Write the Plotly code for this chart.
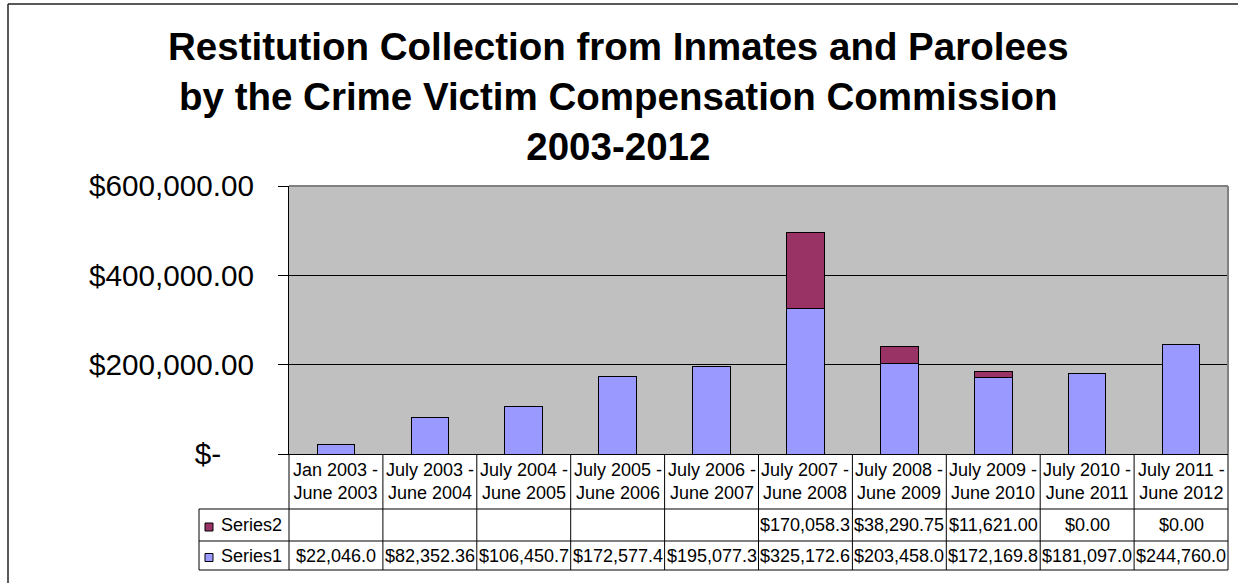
import plotly.graph_objects as go

# ---------------- data ----------------
categories = [
    "Jan 2003 -<br>June 2003", "July 2003 -<br>June 2004", "July 2004 -<br>June 2005",
    "July 2005 -<br>June 2006", "July 2006 -<br>June 2007", "July 2007 -<br>June 2008",
    "July 2008 -<br>June 2009", "July 2009 -<br>June 2010", "July 2010 -<br>June 2011",
    "July 2011 -<br>June 2012",
]
series1 = [22046.0, 82352.36, 106450.7, 172577.4, 195077.3,
           325172.6, 203458.0, 172169.8, 181097.0, 244760.0]
series2 = [None, None, None, None, None,
           170058.3, 38290.75, 11621.00, 0.0, 0.0]
series1_text = ["$22,046.0", "$82,352.36", "$106,450.7", "$172,577.4", "$195,077.3",
                "$325,172.6", "$203,458.0", "$172,169.8", "$181,097.0", "$244,760.0"]
series2_text = ["", "", "", "", "",
                "$170,058.3", "$38,290.75", "$11,621.00", "$0.00", "$0.00"]
series_names = ["Series1", "Series2"]
y_tickvals = [0, 200000, 400000, 600000]
y_ticktext = ["$-\u00a0\u00a0\u00a0\u00a0", "$200,000.00", "$400,000.00", "$600,000.00"]
title_lines = ["Restitution Collection from Inmates and Parolees",
               "by the Crime Victim Compensation Commission",
               "2003-2012"]

# ---------------- styles / geometry ----------------
FONT = "Liberation Sans, Arial, sans-serif"
C1, C2 = "#9999FF", "#993366"
W, H = 1238, 583
L, R, T, B = 289, 10, 186, 129
PW, PH = W - L - R, H - T - B
TXT = 18


def px_x(px):
    return (px - L) / PW


def px_y(py):
    return (H - B - py) / PH


fig = go.Figure()
fig.add_trace(go.Bar(x=categories, y=series1, name=series_names[0],
                     marker=dict(color=C1, line=dict(color="black", width=1))))
fig.add_trace(go.Bar(x=categories, y=series2, name=series_names[1],
                     marker=dict(color=C2, line=dict(color="black", width=1))))

n = len(categories)
shapes = []
annotations = []

# title
annotations.append(dict(
    text="<br>".join("<b>%s</b>" % t for t in title_lines),
    xref="paper", yref="paper", x=px_x(618), y=px_y(96),
    xanchor="center", yanchor="middle", showarrow=False,
    font=dict(family=FONT, size=38.5, color="black")))

# table geometry (pixels)
hdr_top, hdr_bot, r2_bot, r1_bot = 454, 509, 541, 570
lab_left = 199
line = dict(color="black", width=1)

for i in range(n + 1):
    shapes.append(dict(type="line", xref="paper", yref="paper",
                       x0=i / n, x1=i / n, y0=px_y(hdr_top), y1=px_y(hdr_bot), line=line))
for yy in (hdr_bot, r2_bot, r1_bot):
    shapes.append(dict(type="line", xref="paper", yref="paper",
                       x0=px_x(lab_left), x1=1, y0=px_y(yy), y1=px_y(yy), line=line))
for xx in [px_x(lab_left)] + [i / n for i in range(n + 1)]:
    shapes.append(dict(type="line", xref="paper", yref="paper",
                       x0=xx, x1=xx, y0=px_y(hdr_bot), y1=px_y(r1_bot), line=line))

for i in range(n):
    cx = (i + 0.5) / n
    annotations.append(dict(text=categories[i], xref="paper", yref="paper",
                            x=cx, y=px_y((hdr_top + hdr_bot) / 2), xanchor="center",
                            yanchor="middle", showarrow=False,
                            font=dict(family=FONT, size=TXT, color="black")))
    if series2_text[i]:
        annotations.append(dict(text=series2_text[i], xref="paper", yref="paper",
                                x=cx, y=px_y((hdr_bot + r2_bot) / 2), xanchor="center",
                                yanchor="middle", showarrow=False,
                                font=dict(family=FONT, size=TXT, color="black")))
    annotations.append(dict(text=series1_text[i], xref="paper", yref="paper",
                            x=cx, y=px_y((r2_bot + r1_bot) / 2), xanchor="center",
                            yanchor="middle", showarrow=False,
                            font=dict(family=FONT, size=TXT, color="black")))

for name, color, (yt, yb) in ((series_names[1], C2, (hdr_bot, r2_bot)),
                              (series_names[0], C1, (r2_bot, r1_bot))):
    cy = (yt + yb) / 2 + 2
    shapes.append(dict(type="rect", xref="paper", yref="paper",
                       x0=px_x(205), x1=px_x(213), y0=px_y(cy - 4), y1=px_y(cy + 4),
                       fillcolor=color, line=dict(color="black", width=1)))
    annotations.append(dict(text=name, xref="paper", yref="paper",
                            x=px_x(219), y=px_y((yt + yb) / 2), xanchor="left",
                            yanchor="middle", showarrow=False,
                            font=dict(family=FONT, size=TXT, color="black")))

# plot-area top/right border (gray)
shapes.append(dict(type="line", xref="paper", yref="paper", x0=0, x1=1, y0=1, y1=1,
                   line=dict(color="#808080", width=2)))
shapes.append(dict(type="line", xref="paper", yref="paper", x0=1, x1=1, y0=0, y1=1,
                   line=dict(color="#808080", width=2)))

# outer chart border
shapes.append(dict(type="line", xref="paper", yref="paper",
                   x0=px_x(8), x1=px_x(1250), y0=px_y(4), y1=px_y(4),
                   line=dict(color="#222222", width=1.5)))
shapes.append(dict(type="line", xref="paper", yref="paper",
                   x0=px_x(8), x1=px_x(8), y0=px_y(4), y1=px_y(600),
                   line=dict(color="#222222", width=1.5)))

fig.update_layout(
    width=W, height=H,
    margin=dict(l=L, r=R, t=T, b=B, pad=0),
    barmode="stack", bargap=0.6,
    plot_bgcolor="#C0C0C0", paper_bgcolor="white",
    showlegend=False,
    font=dict(family=FONT, color="black"),
    shapes=shapes, annotations=annotations,
    xaxis=dict(showticklabels=False, showline=True, linecolor="black", linewidth=1,
               ticks="", showgrid=False, zeroline=False, range=[-0.5, n - 0.5],
               fixedrange=True),
    yaxis=dict(range=[0, 600000], tickvals=y_tickvals, ticktext=y_ticktext,
               showline=True, linecolor="black", linewidth=1,
               ticks="outside", ticklen=10, tickcolor="black", tickwidth=1,
               showgrid=True, gridcolor="black", gridwidth=1, zeroline=False,
               tickfont=dict(family=FONT, size=29.7, color="black"),
               ticklabelstandoff=18, fixedrange=True),
)

fig.write_html(
    "out.html",
    config={"displayModeBar": False},
    post_script="document.body.style.margin='0';document.body.style.overflow='hidden';",
)
